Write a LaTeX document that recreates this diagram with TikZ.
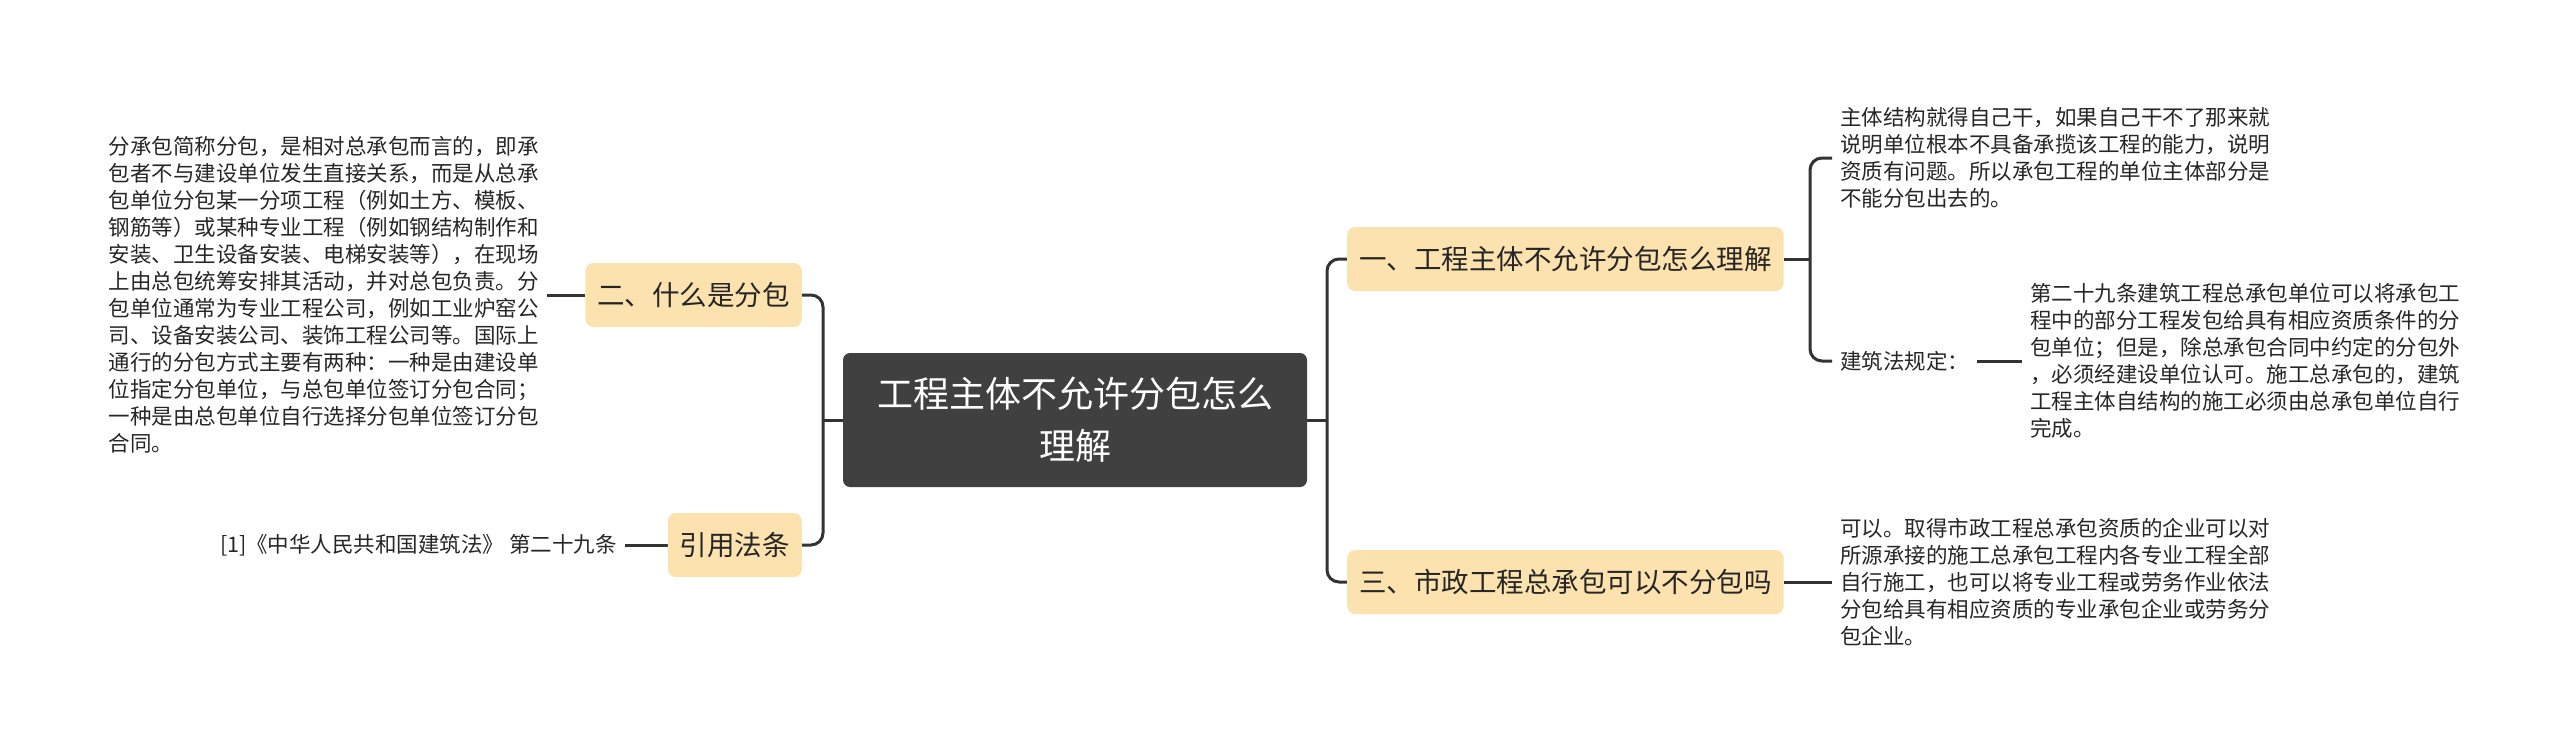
\documentclass[tikz,border=0pt]{standalone}
\usepackage{fontspec}
\setmainfont{Noto Sans CJK SC}
\usetikzlibrary{positioning, backgrounds}
\definecolor{rootgray}{HTML}{404040}
\definecolor{branchfill}{HTML}{FCE2AF}
\definecolor{linkgray}{HTML}{333333}
\definecolor{inkgray}{HTML}{262626}

\begin{document}
\begin{tikzpicture}[
    x=1pt, y=-1pt,
    root/.style={rectangle, rounded corners=7pt, fill=rootgray, text=white, minimum width=464pt, minimum height=134pt, align=center, font=\fontsize{36}{52}\selectfont},
    branch/.style={rectangle, rounded corners=8pt, fill=branchfill, text=inkgray, minimum height=64pt, inner xsep=12pt, font=\fontsize{27.5}{33}\selectfont},
    note/.style={inner xsep=8pt, inner ysep=2pt, align=left, text=inkgray, font=\fontsize{21.5}{27}\selectfont},
    link/.style={draw=linkgray, line width=3pt, rounded corners=12pt}
]
\useasboundingbox (0,0) rectangle (2560,753);

% Nodes
\node (root) [root] at (1075,420) {工程主体不允许分包怎么\\理解};
\node (what) [branch, anchor=east] at (802,295) {二、什么是分包};
\node (cite) [branch, anchor=east] at (802,545) {引用法条};
\node (whole) [branch, anchor=west] at (1347,259) {一、工程主体不允许分包怎么理解};
\node (city) [branch, anchor=west] at (1347,582) {三、市政工程总承包可以不分包吗};

\node (whatnote) [note, anchor=east] at (547,295) {分承包简称分包，是相对总承包而言的，即承\\包者不与建设单位发生直接关系，而是从总承\\包单位分包某一分项工程（例如土方、模板、\\钢筋等）或某种专业工程（例如钢结构制作和\\安装、卫生设备安装、电梯安装等），在现场\\上由总包统筹安排其活动，并对总包负责。分\\包单位通常为专业工程公司，例如工业炉窑公\\司、设备安装公司、装饰工程公司等。国际上\\通行的分包方式主要有两种：一种是由建设单\\位指定分包单位，与总包单位签订分包合同；\\一种是由总包单位自行选择分包单位签订分包\\合同。};
\node (citenote) [note, anchor=east] at (625,545) {[1]《中华人民共和国建筑法》 第二十九条};
\node (bodynote) [note, anchor=west] at (1832,158) {主体结构就得自己干，如果自己干不了那来就\\说明单位根本不具备承揽该工程的能力，说明\\资质有问题。所以承包工程的单位主体部分是\\不能分包出去的。};
\node (law) [note, anchor=west] at (1832,361) {建筑法规定：};
\node (lawnote) [note, anchor=west] at (2022,361) {第二十九条建筑工程总承包单位可以将承包工\\程中的部分工程发包给具有相应资质条件的分\\包单位；但是，除总承包合同中约定的分包外\\，必须经建设单位认可。施工总承包的，建筑\\工程主体自结构的施工必须由总承包单位自行\\完成。};
\node (citynote) [note, anchor=west] at (1832,582) {可以。取得市政工程总承包资质的企业可以对\\所源承接的施工总承包工程内各专业工程全部\\自行施工，也可以将专业工程或劳务作业依法\\分包给具有相应资质的专业承包企业或劳务分\\包企业。};

\coordinate (ltrunk) at (823,420);
\coordinate (rtrunk) at (1327,420);
\coordinate (wtrunk) at (1810,259);

% Connections
\begin{scope}[on background layer]
\draw [link] (root.west) -- (ltrunk);
\draw [link] (ltrunk) |- (what.east);
\draw [link] (ltrunk) |- (cite.east);
\draw [link] (what.west) -- (whatnote.east);
\draw [link] (cite.west) -- (citenote.east);
\draw [link] (root.east) -- (rtrunk);
\draw [link] (rtrunk) |- (whole.west);
\draw [link] (rtrunk) |- (city.west);
\draw [link] (whole.east) -- (wtrunk);
\draw [link] (wtrunk) |- (bodynote.west);
\draw [link] (wtrunk) |- (law.west);
\draw [link] (law.east) -- (lawnote.west);
\draw [link] (city.east) -- (citynote.west);
\end{scope}

\end{tikzpicture}
\end{document}
